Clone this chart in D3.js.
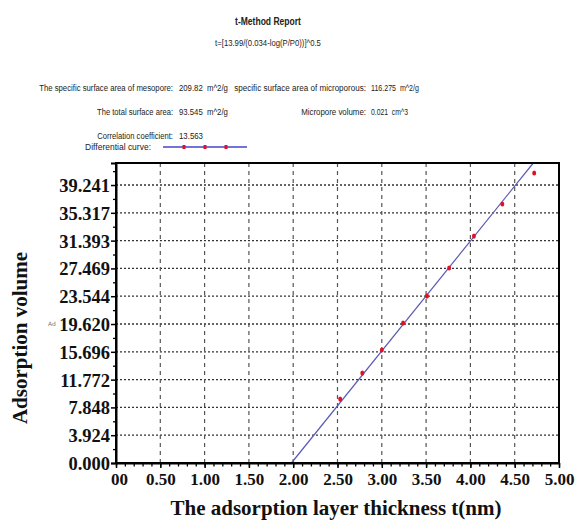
<!DOCTYPE html>
<html>
  <head>
    <meta charset="UTF-8" />
    <title>t-Method Report</title>
    <script src="https://d3js.org/d3.v7.min.js"></script>
    <style>
      body { margin: 0; background: #fff; }
      .report text { font-family: "Liberation Sans", Arial, sans-serif; font-size: 10px; fill: #222; }
      .axis text { font-family: "Liberation Serif", "Times New Roman", serif; font-weight: bold; font-size: 17px; fill: #111; }
      .axis-title { font-family: "Liberation Serif", "Times New Roman", serif; font-weight: bold; font-size: 21px; fill: #111; }
    </style>
  </head>
  <body>
    <div id="chart"></div>
    <script>
      // Valores
      var thickness = [2.53, 2.78, 3.00, 3.24, 3.51, 3.76, 4.04, 4.36, 4.72];
      var volume = [9.03, 12.70, 15.95, 19.76, 23.57, 27.53, 32.04, 36.56, 40.94];
      // Reta ajustada (início e fim)
      var fitT = [1.98, 4.71];
      var fitV = [0, 42.35];

      var yTicks = [0, 3.924, 7.848, 11.772, 15.696, 19.620, 23.544, 27.469, 31.393, 35.317, 39.241];
      var xTicks = [0, 0.5, 1, 1.5, 2, 2.5, 3, 3.5, 4, 4.5, 5];
      var xTickLabels = ["00", "0.50", "1.00", "1.50", "2.00", "2.50", "3.00", "3.50", "4.00", "4.50", "5.00"];
      var xDomain = [0, 5];
      var yDomain = [0, 42.35];

      // Textos do relatório (larguras medidas na imagem, texto estreito)
      var reportTexts = [
        { x: 268, y: 25, anchor: "middle", w: 66, bold: true, text: "t-Method Report" },
        { x: 268, y: 46, anchor: "middle", w: 106, text: "t=[13.99/(0.034-log(P/P0))]^0.5" },
        { x: 173, y: 91, anchor: "end", w: 134, text: "The specific surface area of mesopore:" },
        { x: 179, y: 91, anchor: "start", w: 49, text: "209.82  m^2/g" },
        { x: 366, y: 91, anchor: "end", w: 132, text: "specific surface area of microporous:" },
        { x: 371, y: 91, anchor: "start", w: 48, text: "116.275  m^2/g" },
        { x: 173, y: 115, anchor: "end", w: 76, text: "The total surface area:" },
        { x: 179, y: 115, anchor: "start", w: 49, text: "93.545  m^2/g" },
        { x: 366, y: 115, anchor: "end", w: 65, text: "Micropore volume:" },
        { x: 371, y: 115, anchor: "start", w: 37, text: "0.021  cm^3" },
        { x: 173, y: 139, anchor: "end", w: 76, text: "Correlation coefficient:" },
        { x: 179, y: 139, anchor: "start", w: 24, text: "13.563" },
        { x: 151, y: 150, anchor: "end", w: 66, text: "Differential curve:" }
      ];

      var margin = { top: 163, right: 23, bottom: 57, left: 116 },
        width = 582 - margin.left - margin.right,
        height = 520 - margin.top - margin.bottom;

      var root = d3.select("#chart").append("svg")
        .attr("width", 582)
        .attr("height", 520);

      // Cabeçalho do relatório (texto comprimido na horizontal)
      var report = root.append("g").attr("class", "report");
      reportTexts.forEach(function (d) {
        var g = report.append("g");
        var t = g.append("text")
          .attr("text-anchor", d.anchor)
          .style("font-weight", d.bold ? "bold" : "normal")
          .style("font-size", d.bold ? "10.5px" : "9.5px")
          .style("white-space", "pre")
          .text(d.text);
        var natural = t.node().getComputedTextLength();
        var sx = natural > 0 ? d.w / natural : 1;
        g.attr("transform", "translate(" + d.x + "," + d.y + ") scale(" + sx + ",1)");
      });

      // Legenda
      report.append("line")
        .attr("x1", 163).attr("x2", 247).attr("y1", 147).attr("y2", 147)
        .attr("stroke", "#4646c8").attr("stroke-width", 1.5);
      [184, 205, 226].forEach(function (mx) {
        report.append("rect")
          .attr("x", mx - 1.5).attr("y", 145).attr("width", 3).attr("height", 4)
          .attr("fill", "#e0102a");
      });

      var svg = root.append("g")
        .attr("transform", "translate(" + margin.left + "," + margin.top + ")");

      // Escalas
      var x = d3.scaleLinear().domain(xDomain).range([0, width]);
      var y = d3.scaleLinear().domain(yDomain).range([height, 0]);

      // Grade
      svg.append("g").selectAll("line").data(yTicks.slice(1)).enter().append("line")
        .attr("x1", 0).attr("x2", width)
        .attr("y1", (d) => y(d)).attr("y2", (d) => y(d))
        .attr("stroke", "#333").attr("stroke-width", 1.3)
        .attr("stroke-dasharray", "2,2");
      svg.append("g").selectAll("line").data(xTicks.slice(1, -1)).enter().append("line")
        .attr("x1", (d) => x(d)).attr("x2", (d) => x(d))
        .attr("y1", 0).attr("y2", height)
        .attr("stroke", "#555").attr("stroke-width", 1.2)
        .attr("stroke-dasharray", "4,4");

      // Reta ajustada
      svg.append("line")
        .attr("x1", x(fitT[0])).attr("y1", y(fitV[0]))
        .attr("x2", x(fitT[1])).attr("y2", y(fitV[1]))
        .attr("stroke", "#5a5ab4").attr("stroke-width", 1.2);

      // Pontos
      svg.selectAll(".pt").data(thickness).enter().append("ellipse")
        .attr("class", "pt")
        .attr("cx", (d) => x(d))
        .attr("cy", (d, i) => y(volume[i]))
        .attr("rx", 2).attr("ry", 2.6)
        .attr("fill", "#e0102a");

      // Moldura
      svg.append("rect")
        .attr("width", width).attr("height", height)
        .attr("fill", "none").attr("stroke", "#000").attr("stroke-width", 2);

      // Eixo Y
      var yAxis = svg.append("g").attr("class", "axis")
        .call(d3.axisLeft(y).tickValues(yTicks).tickFormat(d3.format(".3f")).tickSize(5).tickPadding(1));
      yAxis.select(".domain").attr("stroke-width", 2);
      yAxis.selectAll(".tick line").attr("stroke-width", 1.5);
      yAxis.selectAll("text").attr("dy", "0.35em").style("font-size", "18.5px");

      var yMinor = yTicks.slice(0, -1).map((d, i) => (d + yTicks[i + 1]) / 2).concat([41.2]);
      svg.append("g")
        .call(d3.axisLeft(y).tickValues(yMinor).tickFormat("").tickSize(3))
        .call((g) => g.select(".domain").remove())
        .selectAll("line").attr("stroke-width", 1.3);

      // Eixo X
      var xAxis = svg.append("g").attr("class", "axis")
        .attr("transform", "translate(0," + height + ")")
        .call(d3.axisBottom(x).tickValues(xTicks).tickFormat((d, i) => xTickLabels[i]).tickSizeInner(5).tickSizeOuter(0).tickPadding(5));
      xAxis.select(".domain").attr("stroke-width", 2);
      xAxis.selectAll(".tick line").attr("stroke-width", 1.5);
      xAxis.selectAll(".tick text").filter((d, i) => i === 0).attr("dx", "3px");

      svg.append("g")
        .attr("transform", "translate(0," + height + ")")
        .call(d3.axisBottom(x).tickValues(d3.range(0, 5.001, 0.1)).tickFormat("").tickSize(3.5))
        .call((g) => g.select(".domain").remove())
        .selectAll("line").attr("stroke-width", 1.3);

      // Títulos dos eixos
      root.append("text").attr("class", "axis-title")
        .attr("x", 336).attr("y", 515)
        .attr("text-anchor", "middle")
        .text("The adsorption layer thickness t(nm)");
      root.append("text").attr("class", "axis-title")
        .attr("transform", "translate(27,338) rotate(-90)")
        .attr("text-anchor", "middle")
        .text("Adsorption volume");
      root.append("text")
        .attr("x", 48).attr("y", 326)
        .style("font-family", "DejaVu Sans, sans-serif")
        .style("font-size", "6px").style("fill", "#777")
        .text("Ad");
    </script>
  </body>
</html>
